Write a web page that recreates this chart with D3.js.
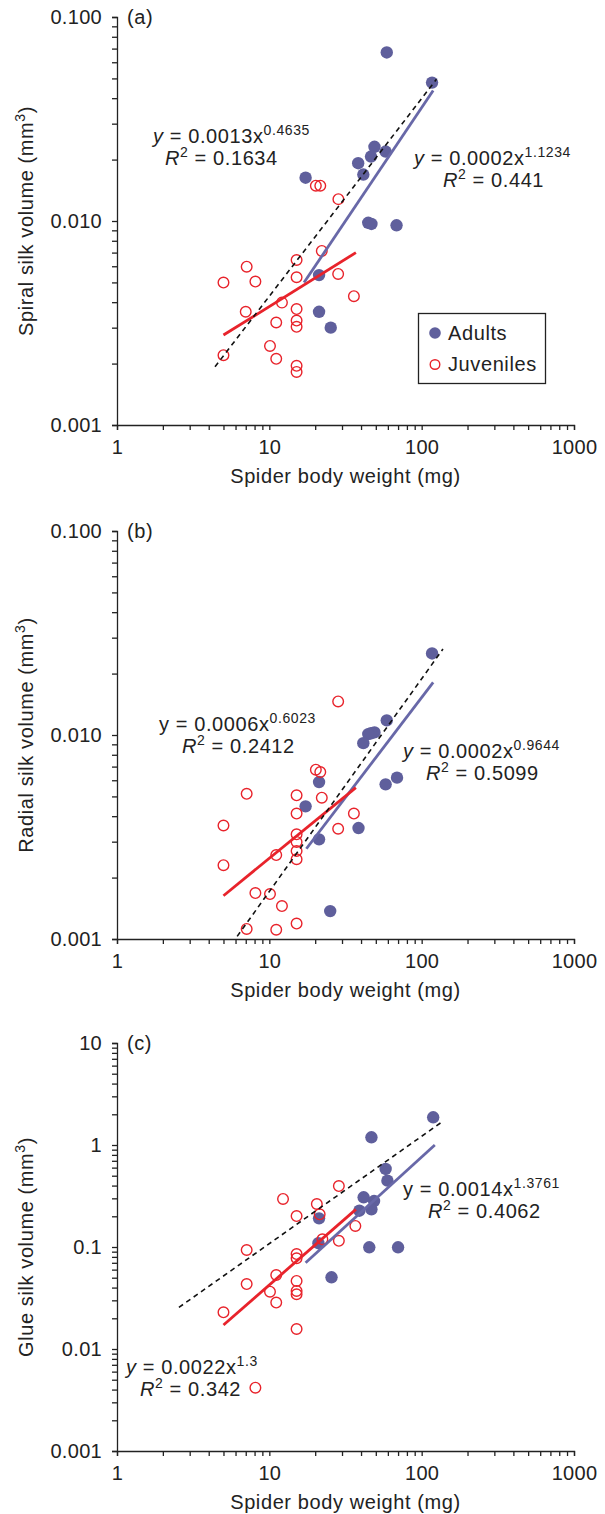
<!DOCTYPE html>
<html>
<head>
<meta charset="utf-8">
<script src="https://cdn.jsdelivr.net/npm/d3@7"></script>
<style>
    body { margin: 0; background: #fff; }
    svg { display: block; font-family: 'Liberation Sans', Arial, Helvetica, sans-serif; }
    .axis path, .axis line { stroke: #222; stroke-width: 1.3; }
    .axis text { font-size: 20px; fill: #222; font-family: 'Liberation Sans', Arial, sans-serif; letter-spacing: 0.3px; }
    .label { letter-spacing: 0.6px; }
</style>
</head>
<body>
<div class="chart"></div>
<script>
'use strict'

// Axis tick labels.
const xTickLabels = ['1', '10', '100', '1000'];
const yTicksSmall = ['0.001', '0.010', '0.100'];
const yTicksGlue = ['0.001', '0.01', '0.1', '1', '10'];

// (a) Spiral silk.
const spiralAdultMass = [59, 117, 49, 58, 46.5, 38.3, 41.4, 17.3, 44.6, 46.8, 68.4, 21.2, 21.2, 25.3];
const spiralAdultVol = [0.067, 0.0477, 0.0231, 0.0219, 0.0207, 0.0192, 0.0169, 0.0163, 0.0098, 0.00967, 0.00953, 0.00543, 0.00359, 0.0030];
const spiralJuvMass = [20.2, 21.6, 28.4, 22.1, 15.1, 7.1, 5.0, 8.1, 15.1, 28.3, 35.9, 12.1, 7.0, 15.1, 15.1, 15.1, 11.1, 10.1, 5.0, 11.1, 15.1, 15.1];
const spiralJuvVol = [0.0149, 0.0149, 0.0128, 0.00713, 0.00644, 0.00597, 0.00499, 0.00505, 0.0053, 0.0055, 0.00428, 0.00398, 0.00359, 0.0037, 0.00325, 0.00303, 0.00318, 0.00244, 0.0022, 0.00211, 0.00195, 0.00182];
const spiralAdultFit = [[16.9, 0.00499], [119, 0.0436]];
const spiralJuvFit = [[5, 0.00276], [37, 0.0070]];
const spiralAllFit = [[4.4, 0.00193], [125, 0.0495]];

// (b) Radial silk.
const radialAdultMass = [117, 59, 49, 46.5, 44.6, 41.4, 68.9, 58, 21.2, 17.3, 38.5, 21.2, 25.1];
const radialAdultVol = [0.0251, 0.0118, 0.0103, 0.0102, 0.0101, 0.00912, 0.00618, 0.00573, 0.00588, 0.00447, 0.0035, 0.00308, 0.00137];
const radialJuvMass = [28.3, 20.2, 21.6, 7.1, 15.1, 22.1, 15.1, 35.9, 5.0, 28.3, 15.1, 15.1, 15.1, 15.1, 11.1, 5.0, 8.1, 10.1, 12.1, 15.1, 7.1, 11.1];
const radialJuvVol = [0.0146, 0.00676, 0.00658, 0.00515, 0.00506, 0.00493, 0.00412, 0.00412, 0.0036, 0.00347, 0.00326, 0.00299, 0.0027, 0.00246, 0.00258, 0.0023, 0.00168, 0.00166, 0.00145, 0.00119, 0.00112, 0.00111];
const radialAdultFit = [[17.5, 0.00277], [119, 0.0181]];
const radialJuvFit = [[5, 0.00163], [37, 0.00552]];
const radialAllFit = [[6.15, 0.00103], [138, 0.0264]];

// (c) Glue silk.
const glueAdultMass = [119, 46.8, 58, 59.6, 41.6, 48.7, 39, 46.8, 21.2, 21.0, 45.3, 70, 25.6];
const glueAdultVol = [1.87, 1.19, 0.582, 0.447, 0.307, 0.282, 0.227, 0.234, 0.191, 0.109, 0.0993, 0.0993, 0.0505];
const glueJuvMass = [28.6, 12.3, 20.5, 21.4, 15.1, 36.7, 22.3, 28.6, 7.1, 15.1, 15.1, 11.1, 7.1, 15.1, 15.1, 15.1, 10.1, 11.1, 5.0, 15.1, 8.1];
const glueJuvVol = [0.396, 0.296, 0.264, 0.209, 0.201, 0.161, 0.119, 0.115, 0.0935, 0.0853, 0.0775, 0.0531, 0.0433, 0.0465, 0.0371, 0.0344, 0.0365, 0.0285, 0.0229, 0.0157, 0.00418];
const glueAdultFit = [[17.3, 0.0702], [122, 1.0]];
const glueJuvFit = [[5, 0.0172], [37, 0.234]];
const glueAllFit = [[2.55, 0.0256], [139.5, 1.73]];

// Colours.
const adultColour = '#5f5f9c',
    adultLine = '#6868a8',
    juvColour = '#e8232b';

// Dimensions.
let width = 605,
    height = 1514,
    left = 117,
    right = 574,
    plotH = 408;

let svg = d3.select('.chart')
    .append('svg')
    .attr('width', width)
    .attr('height', height);

let x = d3.scaleLog()
    .domain([1, 1000])
    .range([left, right]);

function zip(a, b) {
    return a.map((d, i) => [d, b[i]]);
}

// Text with optional superscript: parts = [[text, sup?, italic?], ...]
function richText(g, px, py, parts, size) {
    let t = g.append('text')
        .attr('class', 'label')
        .attr('x', px)
        .attr('y', py)
        .style('font-size', size + 'px')
        .attr('fill', '#222');
    let shift = 0;
    parts.forEach(p => {
        let span = t.append('tspan').text(p[0]);
        let up = p[1] ? -8 : 0;
        span.attr('dy', up - shift);
        shift = up;
        if (p[1]) span.style('font-size', Math.round(size * 0.7) + 'px');
        if (p[2]) span.style('font-style', 'italic');
    });
    return t;
}

function panel(cfg) {
    let top = cfg.top;
    let y = d3.scaleLog()
        .domain(cfg.yDomain)
        .range([top + plotH, top]);

    let g = svg.append('g');

    // Axes.
    let xAxis = d3.axisBottom(x)
        .tickSize(5)
        .tickPadding(10)
        .tickFormat(d => {
            let i = xTickLabels.indexOf(String(d));
            return i >= 0 ? xTickLabels[i] : '';
        });
    g.append('g')
        .attr('class', 'axis')
        .attr('transform', `translate(0, ${top + plotH})`)
        .call(xAxis);

    let decades = cfg.yLabels.map(s => +s);
    let yAxis = d3.axisLeft(y)
        .tickSize(5)
        .tickPadding(10)
        .tickFormat(d => {
            let i = decades.findIndex(v => Math.abs(v - d) < d * 1e-6);
            return i >= 0 ? cfg.yLabels[i] : '';
        });
    g.append('g')
        .attr('class', 'axis')
        .attr('transform', `translate(${left}, 0)`)
        .call(yAxis);

    // Axis titles.
    g.append('text')
        .attr('class', 'label')
        .attr('x', (left + right) / 2)
        .attr('y', top + plotH + 58)
        .attr('text-anchor', 'middle')
        .style('font-size', '20px')
        .attr('fill', '#222')
        .text('Spider body weight (mg)');

    richText(g, 0, 0, [[cfg.yTitle, false], ['3', true], [')', false]], 20)
        .attr('text-anchor', 'middle')
        .attr('transform', `translate(33, ${top + plotH / 2}) rotate(-90)`);

    g.append('text')
        .attr('class', 'label')
        .attr('x', left + 10)
        .attr('y', top + 7)
        .style('font-size', '20px')
        .attr('fill', '#222')
        .text(cfg.tag);

    // Points: adults then juveniles.
    g.append('g')
        .selectAll('circle')
        .data(zip(cfg.adultMass, cfg.adultVol))
        .join('circle')
        .attr('cx', d => x(d[0]))
        .attr('cy', d => y(d[1]))
        .attr('r', 6.2)
        .attr('fill', adultColour);

    g.append('g')
        .selectAll('circle')
        .data(zip(cfg.juvMass, cfg.juvVol))
        .join('circle')
        .attr('cx', d => x(d[0]))
        .attr('cy', d => y(d[1]))
        .attr('r', 5.3)
        .attr('fill', 'none')
        .attr('stroke', juvColour)
        .attr('stroke-width', 1.4);

    // Fitted lines.
    let line = d3.line().x(d => x(d[0])).y(d => y(d[1]));
    g.append('path')
        .attr('d', line(cfg.adultFit))
        .attr('stroke', adultLine)
        .attr('stroke-width', 2.8)
        .attr('fill', 'none');
    g.append('path')
        .attr('d', line(cfg.juvFit))
        .attr('stroke', juvColour)
        .attr('stroke-width', 2.8)
        .attr('fill', 'none');
    g.append('path')
        .attr('d', line(cfg.allFit))
        .attr('stroke', '#111')
        .attr('stroke-width', 1.6)
        .attr('stroke-dasharray', '5,4')
        .attr('fill', 'none');

    // Equations.
    cfg.labels.forEach(l => {
        richText(g, l.x, l.y, [['y', false, l.italic], [' = ' + l.coef + 'x', false], [l.pow, true]], 20);
        richText(g, l.rx, l.y + 22, [['R', false, true], ['2', true], [' = ' + l.r2, false]], 20);
    });

    return g;
}

// Panel (a).
let ga = panel({
    top: 17, tag: '(a)', yDomain: [0.001, 0.1], yLabels: yTicksSmall,
    yTitle: 'Spiral silk volume (mm',
    adultMass: spiralAdultMass, adultVol: spiralAdultVol,
    juvMass: spiralJuvMass, juvVol: spiralJuvVol,
    adultFit: spiralAdultFit, juvFit: spiralJuvFit, allFit: spiralAllFit,
    labels: [
        {x: 153, rx: 165, y: 143, italic: true, coef: '0.0013', pow: '0.4635', r2: '0.1634'},
        {x: 414, rx: 443, y: 165, italic: true, coef: '0.0002', pow: '1.1234', r2: '0.441'}
    ]
});

// Legend.
let legend = ga.append('g');
legend.append('rect')
    .attr('x', 418.5).attr('y', 313.5)
    .attr('width', 127).attr('height', 70)
    .attr('fill', '#fff')
    .attr('stroke', '#222')
    .attr('stroke-width', 1.3);
legend.append('circle')
    .attr('cx', 435).attr('cy', 333).attr('r', 5.8)
    .attr('fill', adultColour);
legend.append('circle')
    .attr('cx', 435).attr('cy', 364.5).attr('r', 4.8)
    .attr('fill', 'none').attr('stroke', juvColour).attr('stroke-width', 1.4);
legend.append('text')
    .attr('class', 'label')
    .attr('x', 448).attr('y', 340)
    .style('font-size', '20px').attr('fill', '#222')
    .text('Adults');
legend.append('text')
    .attr('class', 'label')
    .attr('x', 448).attr('y', 371)
    .style('font-size', '20px').attr('fill', '#222')
    .text('Juveniles');

// Panel (b).
panel({
    top: 531, tag: '(b)', yDomain: [0.001, 0.1], yLabels: yTicksSmall,
    yTitle: 'Radial silk volume (mm',
    adultMass: radialAdultMass, adultVol: radialAdultVol,
    juvMass: radialJuvMass, juvVol: radialJuvVol,
    adultFit: radialAdultFit, juvFit: radialJuvFit, allFit: radialAllFit,
    labels: [
        {x: 159, rx: 182, y: 731, italic: false, coef: '0.0006', pow: '0.6023', r2: '0.2412'},
        {x: 403, rx: 426, y: 758, italic: true, coef: '0.0002', pow: '0.9644', r2: '0.5099'}
    ]
});

// Panel (c).
panel({
    top: 1043, tag: '(c)', yDomain: [0.001, 10], yLabels: yTicksGlue,
    yTitle: 'Glue silk volume (mm',
    adultMass: glueAdultMass, adultVol: glueAdultVol,
    juvMass: glueJuvMass, juvVol: glueJuvVol,
    adultFit: glueAdultFit, juvFit: glueJuvFit, allFit: glueAllFit,
    labels: [
        {x: 403, rx: 428, y: 1196, italic: false, coef: '0.0014', pow: '1.3761', r2: '0.4062'},
        {x: 126, rx: 140, y: 1374, italic: true, coef: '0.0022', pow: '1.3', r2: '0.342'}
    ]
});
</script>
</body>
</html>
